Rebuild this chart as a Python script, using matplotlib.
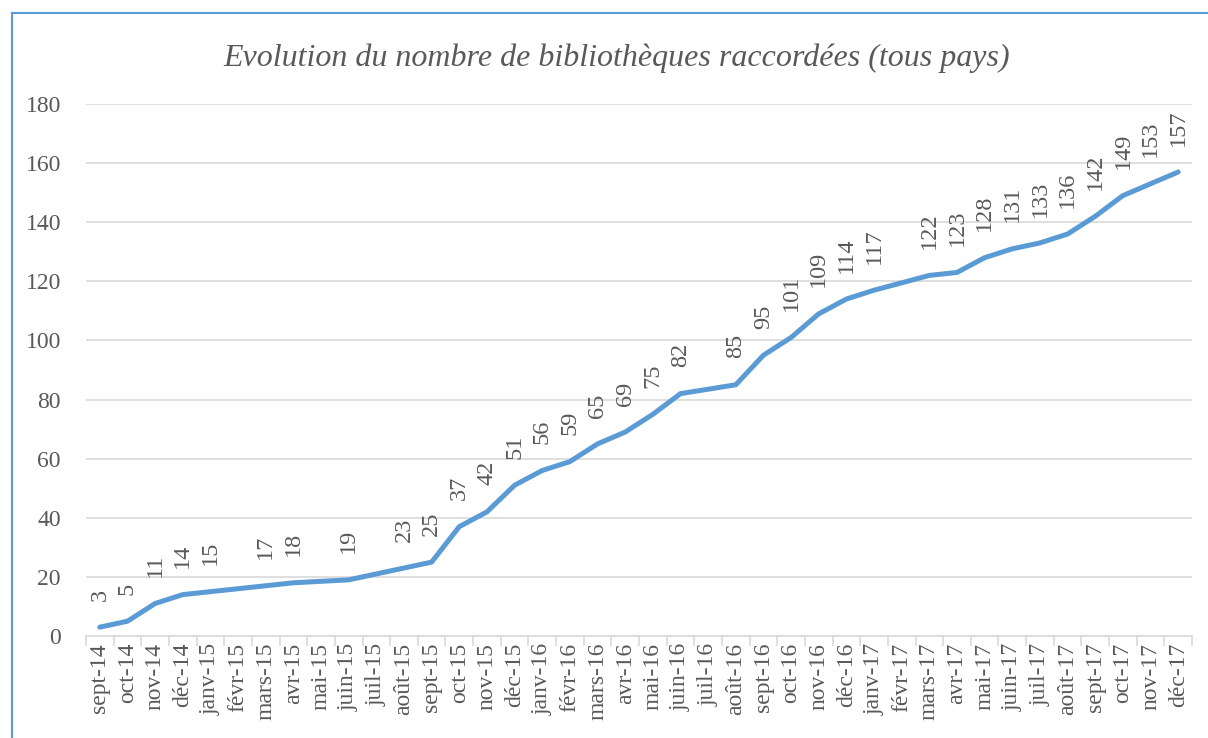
import matplotlib
matplotlib.use('Agg')
import matplotlib.pyplot as plt
from matplotlib.lines import Line2D

# months of the series
mois = ['sept-14', 'oct-14', 'nov-14', 'déc-14',
        'janv-15', 'févr-15', 'mars-15', 'avr-15', 'mai-15', 'juin-15',
        'juil-15', 'août-15', 'sept-15', 'oct-15', 'nov-15', 'déc-15',
        'janv-16', 'févr-16', 'mars-16', 'avr-16', 'mai-16', 'juin-16',
        'juil-16', 'août-16', 'sept-16', 'oct-16', 'nov-16', 'déc-16',
        'janv-17', 'févr-17', 'mars-17', 'avr-17', 'mai-17', 'juin-17',
        'juil-17', 'août-17', 'sept-17', 'oct-17', 'nov-17', 'déc-17']

# number of connected libraries (unlabelled points estimated)
nb_biblio = [3, 5, 11, 14,
             15, 16, 17, 18, 18.5, 19,
             21, 23, 25, 37, 42, 51,
             56, 59, 65, 69, 75, 82,
             83.5, 85, 95, 101, 109, 114,
             117, 119.5, 122, 123, 128, 131,
             133, 136, 142, 149, 153, 157]

# data labels shown on the chart (None = no label)
etiquettes = ['3', '5', '11', '14',
              '15', None, '17', '18', None, '19',
              None, '23', '25', '37', '42', '51',
              '56', '59', '65', '69', '75', '82',
              None, '85', '95', '101', '109', '114',
              '117', None, '122', '123', '128', '131',
              '133', '136', '142', '149', '153', '157']

gris = '#595959'
bleu = '#5B9BD5'
plt.rcParams['font.family'] = ['Liberation Serif', 'DejaVu Serif']

fig = plt.figure(figsize=(12.08, 7.38), dpi=100)
ax = fig.add_axes([86 / 1208, 1 - 636 / 738, (1192 - 86) / 1208, (636 - 104) / 738])

x = list(range(len(mois)))
ax.plot(x, nb_biblio, color=bleu, lw=3.6, solid_capstyle='round', solid_joinstyle='round', zorder=3)

for xi, yi, lab in zip(x, nb_biblio, etiquettes):
    if lab is None:
        continue
    ax.annotate(lab, (xi, yi), xytext=(0, 19), textcoords='offset points',
                rotation=90, ha='center', va='bottom', fontsize=17.5, color=gris)

ax.set_xlim(-0.5, len(mois) - 0.5)
ax.set_ylim(0, 180)
ax.set_yticks(range(0, 181, 20))
ax.yaxis.grid(True, color='#D9D9D9', lw=1.2)
ax.set_axisbelow(True)

ax.set_xticks(x)
ax.set_xticklabels(mois, rotation=90, fontsize=17, color=gris)
ax.set_xticks([i - 0.5 for i in range(len(mois) + 1)], minor=True)
ax.tick_params(axis='x', which='major', length=0, pad=5)
ax.tick_params(axis='x', which='minor', length=7, color='#D9D9D9', width=1.2)
ax.tick_params(axis='y', length=0, labelsize=17, labelcolor=gris, pad=18)

for s in ['top', 'right', 'left']:
    ax.spines[s].set_visible(False)
ax.spines['bottom'].set_color('#D9D9D9')
ax.spines['bottom'].set_linewidth(1.2)

fig.text(617 / 1208, 1 - 58 / 738, 'Evolution du nombre de bibliothèques raccordées (tous pays)',
         ha='center', va='center', fontsize=23, style='italic', color=gris)

# chart frame (right and bottom edges cut off in the original)
fig.add_artist(Line2D([12 / 1208, 12 / 1208], [0, 1 - 13 / 738], transform=fig.transFigure,
                      color=bleu, lw=1.5))
fig.add_artist(Line2D([12 / 1208, 1], [1 - 13 / 738, 1 - 13 / 738], transform=fig.transFigure,
                      color=bleu, lw=1.5))

fig.savefig('out.png', dpi=100)
